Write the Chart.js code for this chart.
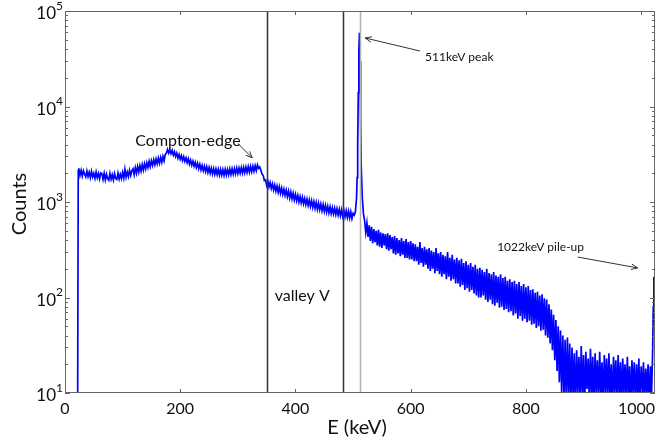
<!DOCTYPE html>
<html>
<head>
<meta charset="utf-8">
<script src="https://cdn.jsdelivr.net/npm/chart.js@4/dist/chart.umd.min.js"></script>
<style>
  html, body { margin: 0; padding: 0; background: #fff; }
  #wrap { width: 656px; height: 446px; }
</style>
</head>
<body>
<div id="wrap"><canvas id="spectrum" width="656" height="446"></canvas></div>
<script>
// ---- data ----------------------------------------------------------------
// channels are 2 keV wide: low part 24..500 keV, tail 520..1018 keV
var lowStartE = 24, tailStartE = 520, channelWidth = 2;

var lowCounts = [
  2250, 1900, 2150, 1870, 2120, 1950, 1830, 2110, 1850, 2050, 1800, 2090, 1830, 2000, 1770, 2060, 1800, 1990, 1750, 2020,
  1990, 1720, 2000, 1700, 1950, 1760, 1690, 1990, 1730, 1930, 1700, 1980, 1760, 1720, 2010, 1740, 1950, 1760, 2040, 1780,
  2200, 1820, 2060, 1850, 2150, 1900, 2120, 2220, 1930, 2290, 2000, 2350, 2060, 2400, 2110, 2470, 2160, 2520, 2230, 2580,
  2300, 2670, 2350, 2710, 2420, 2770, 2460, 2820, 2510, 2880, 2550, 2930, 2600, 3000, 2700, 3150, 3250, 3550, 3250, 3520,
  3200, 3480, 3100, 3360, 3000, 3250, 2880, 3150, 2800, 3060, 2720, 2980, 2660, 2900, 2580, 2840, 2500, 2750, 2430, 2680,
  2370, 2610, 2300, 2540, 2240, 2490, 2170, 2420, 2130, 2370, 2080, 2340, 2040, 2300, 2000, 2260, 1970, 2240, 1950, 2210,
  1940, 2200, 1920, 2190, 1910, 2180, 1900, 2200, 1920, 2190, 1930, 2220, 1940, 2230, 1960, 2240, 1970, 2260, 1990, 2270,
  2000, 2290, 2010, 2300, 2020, 2320, 2040, 2340, 2060, 2360, 2080, 2380, 2100, 2400, 2130, 2440, 2250, 2330, 2150, 1950,
  1900, 1680, 1700, 1500, 1660, 1440, 1600, 1390, 1550, 1340, 1510, 1300, 1470, 1260, 1440, 1230, 1400, 1200, 1360, 1170,
  1330, 1140, 1300, 1100, 1270, 1080, 1240, 1050, 1200, 1030, 1170, 1000, 1140, 980, 1120, 960, 1090, 940, 1070, 920,
  1050, 900, 1030, 880, 1010, 860, 990, 840, 970, 830, 950, 810, 940, 800, 920, 780, 900, 770, 890, 760,
  870, 750, 860, 740, 850, 730, 840, 720, 830, 710, 820, 700, 810, 690, 800, 680, 790, 670, 760
];

var tailCounts = [
  640, 480, 600, 430, 570, 390, 550, 370, 520, 380, 500, 350, 510, 340, 480, 330, 470, 350, 460, 320,
  470, 310, 450, 320, 430, 290, 440, 280, 420, 290, 400, 270, 420, 280, 390, 260, 410, 260, 380, 250,
  390, 250, 370, 240, 360, 240, 340, 220, 380, 230, 330, 210, 340, 220, 320, 200, 330, 190, 310, 200,
  300, 180, 330, 190, 290, 175, 300, 165, 280, 175, 270, 155, 300, 165, 260, 150, 280, 155, 250, 140,
  260, 140, 245, 130, 255, 135, 230, 120, 240, 125, 220, 115, 230, 120, 210, 110, 220, 105, 200, 100,
  205, 100, 195, 105, 185, 95, 200, 90, 180, 95, 175, 85, 185, 82, 170, 88, 165, 78, 175, 80,
  160, 74, 165, 76, 150, 70, 155, 72, 145, 65, 150, 68, 138, 60, 145, 64, 132, 57, 138, 60,
  128, 55, 132, 57, 120, 52, 122, 53, 112, 48, 115, 50, 105, 45, 108, 46, 98, 40, 95, 38,
  85, 33, 75, 28, 66, 22, 58, 17, 50, 13, 45, 10, 40, 9, 36, 8, 38, 9, 33, 7,
  30, 9, 26, 7, 28, 10, 24, 8, 31, 9, 25, 7, 27, 11, 23, 8, 29, 9, 24, 7,
  26, 10, 22, 8, 27, 9, 21, 7, 25, 10, 23, 8, 26, 9, 20, 7, 24, 10, 22, 8,
  25, 9, 21, 7, 23, 10, 20, 8, 24, 9, 19, 7, 22, 10, 21, 8, 20, 9, 23, 7,
  19, 9, 21, 8, 18, 10, 20, 7, 19, 9
];

// finer points: threshold edge, 511 keV photopeak, 1022 keV pile-up
var lineEnergies = [22, 23, 502, 504, 506, 507, 508, 509, 510, 511, 512, 513, 514, 516, 518, 1020, 1021, 1022, 1023, 1024];
var lineCounts   = [10, 2150, 730, 790, 1100, 1800, 4000, 14000, 38000, 59000, 30000, 8000, 2500, 1100, 750, 30, 80, 165, 90, 40];

// vertical marker lines (keV): valley bounds and the 511 keV line
var markerEnergies = [351, 482, 512];

// axis ticks
var xTicks = [0, 200, 400, 600, 800, 1000];
var yDecades = [1, 2, 3, 4, 5];

// ---- build points ----------------------------------------------------------
var points = [];
lowCounts.forEach(function (c, i) { points.push({ x: lowStartE + i * channelWidth, y: c }); });
tailCounts.forEach(function (c, i) { points.push({ x: tailStartE + i * channelWidth, y: c }); });
lineEnergies.forEach(function (e, i) { points.push({ x: e, y: lineCounts[i] }); });
points.sort(function (a, b) { return a.x - b.x; });

// ---- drawing ---------------------------------------------------------------
var FONT = 'Lato, "Open Sans", sans-serif';

function arrow(ctx, x0, y0, x1, y1) {
        var ang = Math.atan2(y1 - y0, x1 - x0), h = 7;
        ctx.beginPath();
        ctx.moveTo(x0, y0);
        ctx.lineTo(x1, y1);
        ctx.moveTo(x1 - h * Math.cos(ang - 0.4), y1 - h * Math.sin(ang - 0.4));
        ctx.lineTo(x1, y1);
        ctx.lineTo(x1 - h * Math.cos(ang + 0.4), y1 - h * Math.sin(ang + 0.4));
        ctx.stroke();
}

var decor = {
        id: 'decor',
        afterDatasetsDraw: function (chart) {
                var ctx = chart.ctx, a = chart.chartArea;
                var xs = chart.scales.x, ys = chart.scales.y;
                ctx.save();

                // marker lines
                markerEnergies.forEach(function (e, i) {
                        var px = Math.round(xs.getPixelForValue(e)) + 0.5;
                        ctx.strokeStyle = i < 2 ? '#333' : '#b0b0b0';
                        ctx.lineWidth = 1.5;
                        ctx.beginPath();
                        ctx.moveTo(px, a.top);
                        ctx.lineTo(px, a.bottom);
                        ctx.stroke();
                });

                // frame
                ctx.strokeStyle = '#666';
                ctx.lineWidth = 1;
                ctx.strokeRect(Math.round(a.left) + 0.5, Math.round(a.top) + 0.5,
                        Math.round(a.right - a.left) - 1, Math.round(a.bottom - a.top) - 1);

                // ticks pointing inwards
                ctx.beginPath();
                xTicks.forEach(function (v) {
                        var px = Math.round(xs.getPixelForValue(v)) + 0.5;
                        ctx.moveTo(px, a.bottom); ctx.lineTo(px, a.bottom - 4);
                        ctx.moveTo(px, a.top); ctx.lineTo(px, a.top + 4);
                });
                yDecades.forEach(function (d) {
                        for (var m = 1; m < 10; m++) {
                                var val = m * Math.pow(10, d);
                                if (val > 1e5) break;
                                var py = Math.round(ys.getPixelForValue(val)) + 0.5;
                                var len = m === 1 ? 5 : 3;
                                ctx.moveTo(a.left, py); ctx.lineTo(a.left + len, py);
                                ctx.moveTo(a.right, py); ctx.lineTo(a.right - len, py);
                        }
                });
                ctx.stroke();

                // tick labels
                ctx.fillStyle = '#111';
                ctx.textBaseline = 'middle';
                ctx.textAlign = 'center';
                ctx.font = '16px ' + FONT;
                xTicks.forEach(function (v) {
                        var label = String(v);
                        var half = ctx.measureText(label).width / 2;
                        var cx = Math.min(xs.getPixelForValue(v), chart.width - 1 - half);
                        ctx.fillText(label, cx, a.bottom + 16);
                });
                yDecades.forEach(function (d) {
                        var py = ys.getPixelForValue(Math.pow(10, d));
                        ctx.font = '17px ' + FONT;
                        ctx.textAlign = 'right';
                        ctx.fillText('10', a.left - 9, py + 3);
                        ctx.font = '12px ' + FONT;
                        ctx.textAlign = 'left';
                        ctx.fillText(String(d), a.left - 9, py - 5);
                });

                // axis titles
                ctx.font = '20px ' + FONT;
                ctx.textAlign = 'center';
                ctx.fillText('E (keV)', 357, a.bottom + 35);
                ctx.save();
                ctx.translate(20, 204);
                ctx.rotate(-Math.PI / 2);
                ctx.fillText('Counts', 0, 0);
                ctx.restore();

                // annotations (placed in data coordinates)
                function P(e, c) { return [xs.getPixelForValue(e), ys.getPixelForValue(c)]; }
                ctx.fillStyle = '#111';
                ctx.textAlign = 'left';
                ctx.font = '16px ' + FONT;
                var p = P(122, 4350);
                ctx.fillText('Compton-edge', p[0], p[1]);
                p = P(364, 104);
                ctx.fillText('valley V', p[0], p[1]);
                ctx.font = '12px ' + FONT;
                p = P(625, 33000);
                ctx.fillText('511keV peak', p[0], p[1]);
                p = P(750, 338);
                ctx.fillText('1022keV pile-up', p[0], p[1]);

                ctx.strokeStyle = '#333';
                ctx.lineWidth = 1;
                var s, t;
                s = P(300, 4100); t = P(325, 2900);
                arrow(ctx, s[0], s[1], t[0], t[1]);
                s = P(616, 38100); t = P(521, 52200);
                arrow(ctx, s[0], s[1], t[0], t[1]);
                s = P(890, 265); t = P(994, 204);
                arrow(ctx, s[0], s[1], t[0], t[1]);

                ctx.restore();
        }
};

var spectrumConfig = {
        type: 'line',
        data: {
                datasets: [{
                        data: points,
                        borderColor: '#0000ff',
                        borderWidth: 1.7,
                        pointRadius: 0,
                        tension: 0,
                        fill: false
                }]
        },
        options: {
                responsive: false,
                animation: false,
                layout: { padding: { top: 11, right: 1, left: 0, bottom: 0 } },
                plugins: { legend: { display: false }, tooltip: { enabled: false } },
                scales: {
                        x: {
                                type: 'linear', min: 0, max: 1024,
                                grid: { display: false }, border: { display: false },
                                ticks: { display: false },
                                afterFit: function (s) { s.height = 53; }
                        },
                        y: {
                                type: 'logarithmic', min: 10, max: 100000,
                                grid: { display: false }, border: { display: false },
                                ticks: { display: false },
                                afterFit: function (s) { s.width = 65; }
                        }
                }
        },
        plugins: [decor]
};

var ctx = document.getElementById('spectrum').getContext('2d');
var spectrumChart = new Chart(ctx, spectrumConfig);
</script>
</body>
</html>
